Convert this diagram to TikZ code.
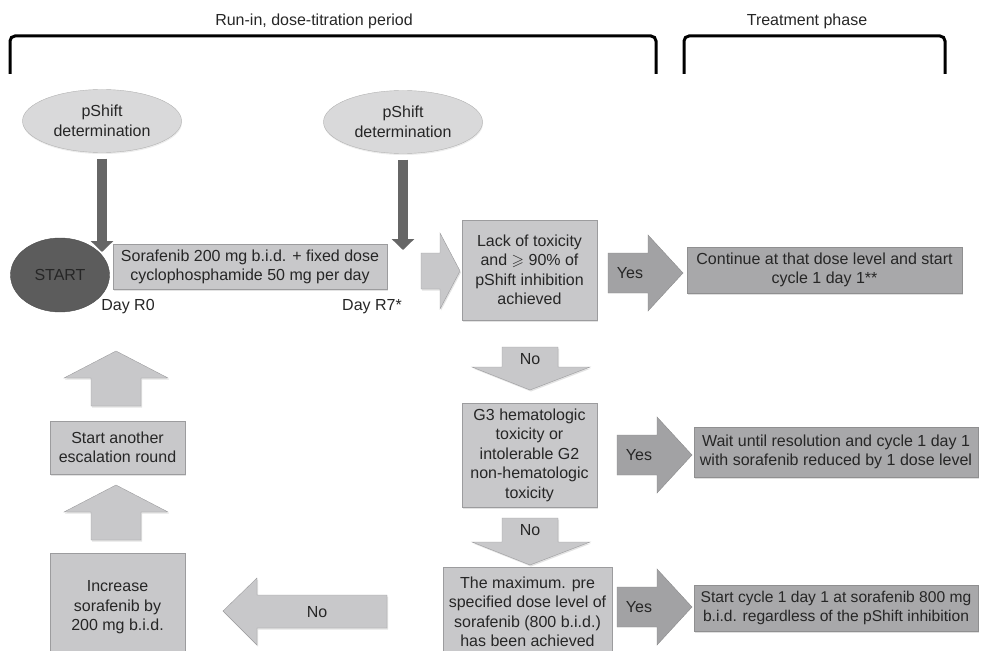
\documentclass[tikz,border=0pt]{standalone}
\usepackage{amssymb}
\usepackage{fontspec}
\setmainfont{Liberation Sans}
\usetikzlibrary{arrows.meta,shapes.geometric,shadows}
\definecolor{boxgray}{HTML}{C8C8CA}
\definecolor{boxline}{HTML}{9C9C9E}
\definecolor{resgray}{HTML}{A8A8AA}
\definecolor{yesgray}{HTML}{A2A2A4}
\definecolor{arrdark}{HTML}{666666}
\definecolor{startgray}{HTML}{5C5C5C}
\definecolor{ellgray}{HTML}{D9D9DA}
\definecolor{txt}{HTML}{262626}
\tikzset{
  lbox/.style={rectangle,draw=boxline,fill=boxgray,align=center,inner sep=0pt,text=txt,
               drop shadow={shadow xshift=1pt,shadow yshift=-1.5pt,fill=black!22}},
  rbox/.style={rectangle,draw=resgray!85!black,fill=resgray,align=center,inner sep=0pt,text=txt,
               drop shadow={shadow xshift=1pt,shadow yshift=-1.5pt,fill=black!25}},
  pell/.style={ellipse,draw=black!30,fill=ellgray,minimum width=159pt,minimum height=63pt,
               align=center,inner sep=0pt,text=txt,
               drop shadow={shadow xshift=0.5pt,shadow yshift=-1.5pt,fill=black!15}},
  lblk/.style={draw=boxline,fill=boxgray,drop shadow={shadow xshift=1pt,shadow yshift=-1.5pt,fill=black!22}},
  yblk/.style={draw=yesgray!85!black,fill=yesgray},
  darr/.style={draw=arrdark,line width=10pt,-{Triangle[width=22pt,length=11pt]}},
  brk/.style={line width=3pt,rounded corners=5pt},
  lbl/.style={text=txt,inner sep=0pt},
}

\begin{document}
\begin{tikzpicture}[x=1pt,y=-1pt,font=\fontsize{16}{19.5}\selectfont]
  \useasboundingbox (0,0) rectangle (981,650);
  % --- periods ---
  \node[lbl] (runin) at (314,21) {Run-in, dose-titration period};
  \node[lbl] (treat) at (807,21) {Treatment phase};
  \draw[brk] (10,74) -- (10,36) -- (656,36) -- (656,74);
  \draw[brk] (684,74) -- (684,36) -- (945,36) -- (945,74);
  % --- run-in ---
  \node[pell] (pL) at (102,121) {pShift\\determination};
  \node[pell] (pR) at (403,122) {pShift\\determination};
  \node[ellipse,draw=black!70,fill=startgray,minimum width=99pt,minimum height=74pt,
        text=black!85] (start) at (60,275) {START};
  \node[lbox,minimum width=274pt,minimum height=45pt] (sora) at (250,267)
    {Sorafenib 200 mg b.i.d. + fixed dose\\cyclophosphamide 50 mg per day};
  \node[lbl] (r0) at (128,307) {Day R0};
  \node[lbl] (r7) at (372,307) {Day R7*};
  \coordinate (t0) at (102,252);
  \coordinate (t7) at (403,250);
  \draw[darr,shorten <=6pt] (pL) -- (t0);
  \draw[darr,shorten <=6pt] (pR) -- (t7);
  % --- decisions ---
  \node[lbox,minimum width=135pt,minimum height=100pt] (lack) at (529.5,270)
    {Lack of toxicity\\and $\geqslant$ 90\% of\\pShift inhibition\\achieved};
  \node[lbox,minimum width=135pt,minimum height=104pt] (g3) at (529.5,455)
    {G3 hematologic\\toxicity or\\intolerable G2\\non-hematologic\\toxicity};
  \node[lbox,minimum width=169pt,minimum height=90pt] (max) at (527.5,612)
    {The maximum. pre\\specified dose level of\\sorafenib (800 b.i.d.)\\has been achieved};
  % --- treatment ---
  \node[rbox,minimum width=275pt,minimum height=46pt] (cont) at (824.5,270)
    {Continue at that dose level and start\\cycle 1 day 1**};
  \node[rbox,minimum width=284pt,minimum height=50pt] (wait) at (836,452)
    {Wait until resolution and cycle 1 day 1\\with sorafenib reduced by 1 dose level};
  \node[rbox,minimum width=284pt,minimum height=46pt,font=\fontsize{15.6}{19}\selectfont] (cyc) at (836,608)
    {Start cycle 1 day 1 at sorafenib 800 mg\\b.i.d. regardless of the pShift inhibition};
  % --- escalation ---
  \node[lbox,minimum width=135pt,minimum height=53pt] (again) at (117.5,447.5)
    {Start another\\escalation round};
  \node[lbox,minimum width=135pt,minimum height=109pt] (incr) at (117.5,607.5)
    {Increase\\sorafenib by\\200 mg b.i.d.};
  % --- block arrows ---
  \draw[lblk] (421,253) -- (440,253) -- (440,233) -- (460,271) -- (440,309) -- (440,289) -- (421,289) -- cycle;
  \foreach \xa/\yc/\nm in {608/273/ya,617/455/yb,617/607/yc}{
    \draw[yblk] (\xa,\yc-20) -- (\xa+40,\yc-20) -- (\xa+40,\yc-38) -- (\xa+75,\yc)
      -- (\xa+40,\yc+38) -- (\xa+40,\yc+20) -- (\xa,\yc+20) -- cycle;
    \node[lbl] (\nm) at (\xa+22,\yc) {Yes};
  }
  \foreach \ya/\yb/\nm in {347/390/na,518/565/nb}{
    \draw[lblk] (502,\ya) -- (558,\ya) -- (558,\yb-23) -- (590,\yb-23) -- (530,\yb)
      -- (472,\yb-23) -- (502,\yb-23) -- cycle;
    \node[lbl] (\nm) at (530,\ya+12) {No};
  }
  \draw[lblk] (387,595) -- (257,595) -- (257,578) -- (223,611) -- (257,645) -- (257,628) -- (387,628) -- cycle;
  \node[lbl] (nc) at (317,612) {No};
  \foreach \yt in {351,485}{
    \draw[lblk] (91,\yt+55) -- (91,\yt+27) -- (64,\yt+27) -- (116,\yt) -- (168,\yt+27)
      -- (141,\yt+27) -- (141,\yt+55) -- cycle;
  }
\end{tikzpicture}
\end{document}
